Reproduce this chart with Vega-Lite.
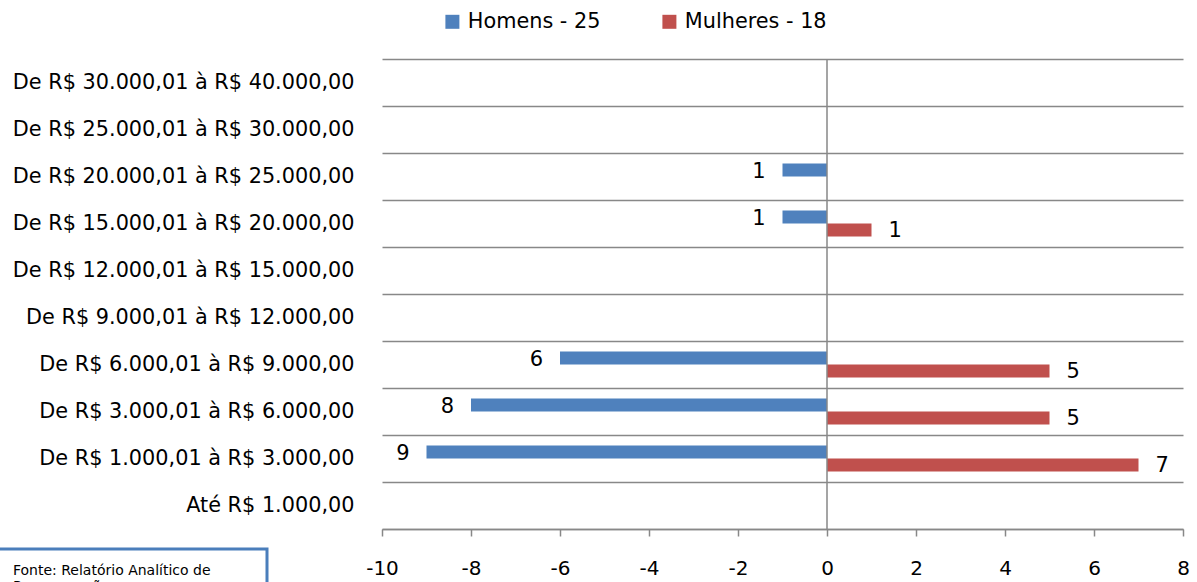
{
  "$schema": "https://vega.github.io/schema/vega-lite/v6.json",
  "width": 801,
  "height": 470,
  "autosize": {"type": "none"},
  "padding": {"left": 382, "top": 59, "right": 14, "bottom": 53},
  "background": "white",
  "config": {
    "view": {"stroke": null},
    "font": "DejaVu Sans",
    "legend": {"strokeWidth": 3}
  },
  "data": {
    "values": [
      {"faixa": "De R$ 20.000,01 à R$ 25.000,00", "sexo": "Homens - 25", "valor": -1, "n": 1},
      {"faixa": "De R$ 15.000,01 à R$ 20.000,00", "sexo": "Homens - 25", "valor": -1, "n": 1},
      {"faixa": "De R$ 15.000,01 à R$ 20.000,00", "sexo": "Mulheres - 18", "valor": 1, "n": 1},
      {"faixa": "De R$ 6.000,01 à R$ 9.000,00", "sexo": "Homens - 25", "valor": -6, "n": 6},
      {"faixa": "De R$ 6.000,01 à R$ 9.000,00", "sexo": "Mulheres - 18", "valor": 5, "n": 5},
      {"faixa": "De R$ 3.000,01 à R$ 6.000,00", "sexo": "Homens - 25", "valor": -8, "n": 8},
      {"faixa": "De R$ 3.000,01 à R$ 6.000,00", "sexo": "Mulheres - 18", "valor": 5, "n": 5},
      {"faixa": "De R$ 1.000,01 à R$ 3.000,00", "sexo": "Homens - 25", "valor": -9, "n": 9},
      {"faixa": "De R$ 1.000,01 à R$ 3.000,00", "sexo": "Mulheres - 18", "valor": 7, "n": 7}
    ]
  },
  "layer": [
    {
      "mark": {"type": "bar"},
      "encoding": {
        "y": {
          "field": "faixa", "type": "nominal", "sort": null,
          "scale": {
            "domain": ["De R$ 30.000,01 à R$ 40.000,00", "De R$ 25.000,01 à R$ 30.000,00", "De R$ 20.000,01 à R$ 25.000,00", "De R$ 15.000,01 à R$ 20.000,00", "De R$ 12.000,01 à R$ 15.000,00", "De R$ 9.000,01 à R$ 12.000,00", "De R$ 6.000,01 à R$ 9.000,00", "De R$ 3.000,01 à R$ 6.000,00", "De R$ 1.000,01 à R$ 3.000,00", "Até R$ 1.000,00"],
            "paddingInner": 0, "paddingOuter": 0
          },
          "axis": {
            "title": null, "domain": false, "ticks": false, "tickBand": "extent",
            "grid": true, "gridColor": "#888888", "gridWidth": 1.5,
            "labelFont": "DejaVu Sans", "labelFontSize": 20.8, "labelPadding": 28,
            "labelColor": "black", "labelLimit": 400
          }
        },
        "yOffset": {
          "field": "sexo", "type": "nominal",
          "scale": {"domain": ["Homens - 25", "Mulheres - 18"], "paddingInner": 0, "paddingOuter": 0.8077}
        },
        "x": {
          "field": "valor", "type": "quantitative",
          "scale": {"domain": [-10, 8], "nice": false},
          "axis": {
            "title": null, "values": [-10, -8, -6, -4, -2, 0, 2, 4, 6, 8], "grid": false,
            "labelExpr": "datum.value + ''",
            "domainColor": "#888888", "domainWidth": 1.5,
            "tickColor": "#888888", "tickWidth": 1.5, "tickSize": 7,
            "labelFont": "DejaVu Sans", "labelFontSize": 20, "labelPadding": 22,
            "labelColor": "black", "labelFlush": false
          }
        },
        "color": {
          "field": "sexo", "type": "nominal",
          "scale": {"domain": ["Homens - 25", "Mulheres - 18"], "range": ["#4F81BD", "#C0504D"]},
          "legend": {
            "orient": "none", "legendX": 60, "legendY": -48, "direction": "horizontal",
            "title": null, "symbolType": "square", "symbolSize": 196, "symbolStrokeWidth": 0,
            "labelFont": "DejaVu Sans", "labelFontSize": 20.8, "labelOffset": 5, "columnPadding": 58,
            "labelColor": "black", "labelLimit": 300
          }
        }
      }
    },
    {
      "transform": [{"filter": "datum.sexo === 'Homens - 25'"}],
      "mark": {"type": "text", "align": "right", "baseline": "middle", "dx": -17, "dy": 1.5, "font": "DejaVu Sans", "fontSize": 21, "color": "black"},
      "encoding": {
        "y": {"field": "faixa", "type": "nominal", "sort": null},
        "yOffset": {"field": "sexo", "type": "nominal"},
        "x": {"field": "valor", "type": "quantitative"},
        "text": {"field": "n", "type": "quantitative"}
      }
    },
    {
      "transform": [{"filter": "datum.sexo === 'Mulheres - 18'"}],
      "mark": {"type": "text", "align": "left", "baseline": "middle", "dx": 17, "dy": 1.5, "font": "DejaVu Sans", "fontSize": 21, "color": "black"},
      "encoding": {
        "y": {"field": "faixa", "type": "nominal", "sort": null},
        "yOffset": {"field": "sexo", "type": "nominal"},
        "x": {"field": "valor", "type": "quantitative"},
        "text": {"field": "n", "type": "quantitative"}
      }
    },
    {
      "data": {"values": [{"fonte": "Fonte"}]},
      "mark": {"type": "rule", "color": "#888888", "strokeWidth": 1.5},
      "encoding": {
        "x": {"datum": 0, "type": "quantitative"},
        "strokeDash": {
          "field": "fonte", "type": "nominal",
          "legend": {
            "orient": "none", "legendX": -384, "legendY": 490,
            "title": ["Fonte: Relatório Analítico de", "Remuneração"],
            "titleFont": "DejaVu Sans", "titleFontSize": 14, "titleFontWeight": "normal",
            "titleColor": "black", "titleLimit": 400, "titleLineHeight": 16, "titlePadding": 4,
            "padding": 15, "strokeColor": "#4A7EBB", "fillColor": "white", "cornerRadius": 0,
            "symbolOpacity": 0, "labelOpacity": 0, "labelOffset": 192,
            "labelFont": "Liberation Sans", "labelFontSize": 13
          }
        }
      }
    }
  ]
}
